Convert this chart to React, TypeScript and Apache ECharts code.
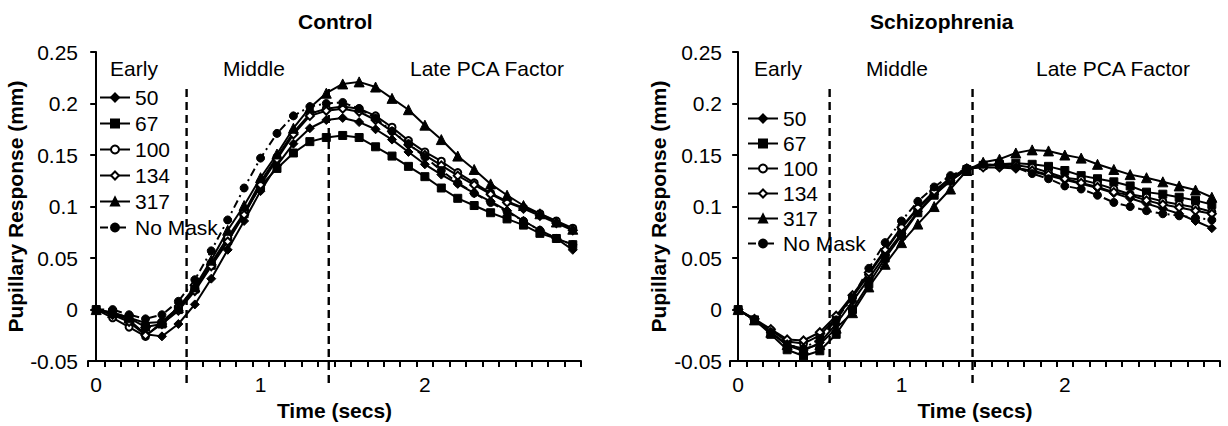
import React, { useEffect, useRef } from "react";
import * as echarts from "echarts";

const TIMES = ["0", "0.1", "0.2", "0.3", "0.4", "0.5", "0.6", "0.7", "0.8", "0.9", "1", "1.1", "1.2", "1.3", "1.4", "1.5", "1.6", "1.7", "1.8", "1.9", "2", "2.1", "2.2", "2.3", "2.4", "2.5", "2.6", "2.7", "2.8", "2.9"];
const X_TICK_LABELS = ["0", "1", "2"];
const SERIES_NAMES = ["50", "67", "100", "134", "317", "No Mask"];
const PANEL_TITLES = ["Control", "Schizophrenia"];
const PHASE_LABELS = ["Early", "Middle", "Late PCA Factor"];

// Control
const C50 = [0, -0.004, -0.010, -0.024, -0.026, -0.014, 0.005, 0.030, 0.058, 0.086, 0.115, 0.140, 0.161, 0.176, 0.184, 0.186, 0.182, 0.175, 0.165, 0.153, 0.141, 0.131, 0.122, 0.113, 0.105, 0.096, 0.086, 0.077, 0.069, 0.058];
const C67 = [0, -0.003, -0.008, -0.017, -0.014, 0.000, 0.020, 0.043, 0.067, 0.093, 0.120, 0.137, 0.152, 0.163, 0.167, 0.169, 0.167, 0.158, 0.149, 0.139, 0.129, 0.118, 0.108, 0.101, 0.094, 0.088, 0.082, 0.074, 0.069, 0.063];
const C100 = [0, -0.008, -0.017, -0.026, -0.012, 0.002, 0.020, 0.045, 0.070, 0.094, 0.124, 0.148, 0.172, 0.190, 0.195, 0.197, 0.195, 0.188, 0.177, 0.164, 0.153, 0.144, 0.133, 0.123, 0.113, 0.105, 0.099, 0.093, 0.086, 0.079];
const C134 = [0, -0.005, -0.012, -0.025, -0.014, -0.001, 0.018, 0.042, 0.066, 0.092, 0.121, 0.146, 0.170, 0.188, 0.193, 0.195, 0.192, 0.184, 0.173, 0.160, 0.150, 0.140, 0.130, 0.121, 0.112, 0.104, 0.098, 0.091, 0.084, 0.077];
const C317 = [0, -0.003, -0.008, -0.013, -0.012, 0.002, 0.022, 0.048, 0.077, 0.101, 0.128, 0.151, 0.176, 0.196, 0.210, 0.219, 0.221, 0.216, 0.205, 0.194, 0.179, 0.165, 0.149, 0.136, 0.122, 0.111, 0.101, 0.093, 0.085, 0.078];
const CNM = [0, 0, -0.005, -0.009, -0.005, 0.008, 0.029, 0.057, 0.087, 0.118, 0.147, 0.171, 0.188, 0.197, 0.200, 0.201, 0.195, 0.186, 0.173, 0.161, 0.148, 0.135, 0.123, 0.113, 0.104, 0.095, 0.086, 0.077, 0.069, 0.063];

// Schizophrenia
const S50 = [0, -0.010, -0.022, -0.035, -0.040, -0.032, -0.014, 0.008, 0.030, 0.053, 0.074, 0.095, 0.112, 0.125, 0.136, 0.140, 0.140, 0.138, 0.134, 0.130, 0.126, 0.122, 0.118, 0.113, 0.108, 0.103, 0.098, 0.093, 0.086, 0.079];
const S67 = [0, -0.010, -0.024, -0.039, -0.045, -0.040, -0.024, 0.000, 0.025, 0.050, 0.072, 0.094, 0.111, 0.125, 0.136, 0.140, 0.141, 0.142, 0.141, 0.139, 0.135, 0.130, 0.127, 0.124, 0.120, 0.114, 0.112, 0.109, 0.106, 0.102];
const S100 = [0, -0.010, -0.020, -0.031, -0.033, -0.025, -0.008, 0.012, 0.034, 0.057, 0.079, 0.098, 0.114, 0.127, 0.137, 0.139, 0.141, 0.140, 0.138, 0.133, 0.128, 0.126, 0.122, 0.117, 0.112, 0.109, 0.105, 0.102, 0.099, 0.095];
const S134 = [0, -0.009, -0.019, -0.029, -0.030, -0.022, -0.006, 0.014, 0.036, 0.058, 0.080, 0.099, 0.115, 0.128, 0.137, 0.138, 0.138, 0.137, 0.135, 0.131, 0.127, 0.123, 0.119, 0.114, 0.111, 0.106, 0.102, 0.099, 0.096, 0.093];
const S317 = [0, -0.010, -0.022, -0.034, -0.038, -0.034, -0.018, -0.003, 0.022, 0.044, 0.065, 0.083, 0.100, 0.117, 0.135, 0.143, 0.146, 0.152, 0.155, 0.154, 0.150, 0.147, 0.141, 0.136, 0.131, 0.128, 0.124, 0.120, 0.116, 0.109];
const SNM = [0, -0.010, -0.022, -0.034, -0.038, -0.028, -0.010, 0.012, 0.040, 0.065, 0.086, 0.105, 0.119, 0.130, 0.137, 0.141, 0.140, 0.138, 0.132, 0.127, 0.120, 0.117, 0.111, 0.104, 0.100, 0.096, 0.093, 0.091, 0.089, 0.087];

// phase boundaries (secs) and vertical extent of the dashed dividers (mm)
const DIVIDERS_CONTROL = [0.55, 1.415];
const DIVIDERS_SCZ = [0.56, 1.435];
const DIVIDER_SPAN = [0.214, -0.076];

const FONT = "'Liberation Sans', Arial, Helvetica, sans-serif";

const MARKERS: Record<string, { symbol: string; size: number; dash?: any }> = {
  "50": { symbol: "diamond", size: 9 },
  "67": { symbol: "rect", size: 8 },
  "100": { symbol: "emptyCircle", size: 7 },
  "134": { symbol: "emptyDiamond", size: 8 },
  "317": { symbol: "triangle", size: 10 },
  "No Mask": { symbol: "circle", size: 8, dash: [8, 4, 2, 4] },
};

function lineSeries(name: string, data: number[], idx: number) {
  const m = MARKERS[name];
  return {
    type: "line",
    name,
    xAxisIndex: idx,
    yAxisIndex: idx,
    data,
    symbol: m.symbol,
    symbolSize: m.size,
    showAllSymbol: true,
    color: "#000",
    itemStyle: { color: "#000", borderColor: "#000", borderWidth: 1 },
    lineStyle: { color: "#000", width: 2, type: m.dash ? m.dash : "solid" },
    emphasis: { disabled: true },
    z: 3,
  };
}

function dividerSeries(xs: number[], idx: number) {
  return {
    type: "custom",
    xAxisIndex: idx + 2,
    yAxisIndex: idx,
    clip: false,
    silent: true,
    data: xs.map((x) => [x, DIVIDER_SPAN[0], DIVIDER_SPAN[1]]),
    encode: { x: 0, y: [1, 2] },
    renderItem: (params: any, api: any) => {
      const p1 = api.coord([api.value(0), api.value(1)]);
      const p2 = api.coord([api.value(0), api.value(2)]);
      return {
        type: "line",
        shape: { x1: p1[0], y1: p1[1], x2: p2[0], y2: p2[1] },
        style: { stroke: "#000", lineWidth: 2.4, lineDash: [8, 5] },
      };
    },
    z: 2,
  };
}

function catAxis(gridIndex: number) {
  return {
    type: "category",
    gridIndex,
    data: TIMES,
    boundaryGap: true,
    name: "Time (secs)",
    nameLocation: "middle",
    nameGap: 33,
    nameTextStyle: { fontFamily: FONT, fontSize: 21, fontWeight: "bold", color: "#000" },
    axisLine: { onZero: false, lineStyle: { color: "#000", width: 2 } },
    axisTick: { show: true, interval: 0, length: 6, lineStyle: { color: "#000", width: 2 } },
    axisLabel: {
      interval: 9,
      margin: 13,
      fontFamily: FONT,
      fontSize: 21,
      color: "#000",
      formatter: (v: string, i: number) => X_TICK_LABELS[Math.round(i / 10)] ?? v,
    },
    splitLine: { show: false },
  };
}

function hiddenValueAxis(gridIndex: number) {
  return { type: "value", gridIndex, min: -0.05, max: 2.95, show: false };
}

function valAxis(gridIndex: number, labelMargin: number) {
  return {
    type: "value",
    gridIndex,
    min: -0.05,
    max: 0.25,
    interval: 0.05,
    name: "Pupillary Response (mm)",
    nameLocation: "middle",
    nameGap: 61,
    nameTextStyle: { fontFamily: FONT, fontSize: 21, fontWeight: "bold", color: "#000" },
    axisLine: { show: true, lineStyle: { color: "#000", width: 2 } },
    axisTick: { show: true, length: 6, lineStyle: { color: "#000", width: 2 } },
    axisLabel: {
      margin: labelMargin,
      fontFamily: FONT,
      fontSize: 21,
      color: "#000",
      formatter: (v: number) => String(Math.round(v * 100) / 100),
    },
    splitLine: { show: false },
  };
}

function phaseText(text: string, x: number, y: number) {
  return {
    type: "text",
    x,
    y,
    style: { text, fontFamily: FONT, fontSize: 21, fill: "#000", align: "center", verticalAlign: "middle" },
    silent: true,
  };
}

export default function App() {
  const ref = useRef<HTMLDivElement>(null);
  useEffect(() => {
    if (!ref.current) return;
    const chart = echarts.init(ref.current, null, { renderer: "svg" });
    const controlData = [C50, C67, C100, C134, C317, CNM];
    const sczData = [S50, S67, S100, S134, S317, SNM];
    const legendBase = {
      orient: "vertical",
      data: SERIES_NAMES,
      itemWidth: 30,
      itemHeight: 10,
      selectedMode: false,
      textStyle: { fontFamily: FONT, fontSize: 21, color: "#000" },
      padding: 0,
    };
    chart.setOption({
      animation: false,
      backgroundColor: "#fff",
      title: [
        { text: PANEL_TITLES[0], left: 298, top: 11, padding: 0, textStyle: { fontFamily: FONT, fontSize: 21, fontWeight: "bold", color: "#000" } },
        { text: PANEL_TITLES[1], left: 870, top: 11, padding: 0, textStyle: { fontFamily: FONT, fontSize: 21, fontWeight: "bold", color: "#000" } },
      ],
      legend: [
        { ...legendBase, left: 99, top: 87, itemGap: 5 },
        { ...legendBase, left: 747, top: 108, itemGap: 4 },
      ],
      grid: [
        { left: 88, top: 52, width: 493, height: 314 },
        { left: 730, top: 52, width: 490, height: 315 },
      ],
      xAxis: [catAxis(0), catAxis(1), hiddenValueAxis(0), hiddenValueAxis(1)],
      yAxis: [valAxis(0, 10), valAxis(1, 8)],
      series: [
        ...SERIES_NAMES.map((n, i) => lineSeries(n, controlData[i], 0)),
        ...SERIES_NAMES.map((n, i) => lineSeries(n, sczData[i], 1)),
        dividerSeries(DIVIDERS_CONTROL, 0),
        dividerSeries(DIVIDERS_SCZ, 1),
      ],
      graphic: [
        phaseText(PHASE_LABELS[0], 134, 68),
        phaseText(PHASE_LABELS[1], 254, 68),
        phaseText(PHASE_LABELS[2], 487, 68),
        phaseText(PHASE_LABELS[0], 778, 68),
        phaseText(PHASE_LABELS[1], 897, 68),
        phaseText(PHASE_LABELS[2], 1113, 68),
      ],
    });
    return () => chart.dispose();
  }, []);
  return (
    <div
      ref={ref}
      style={{ position: "fixed", left: 0, top: 0, width: 1228, height: 426, background: "#fff" }}
    />
  );
}
